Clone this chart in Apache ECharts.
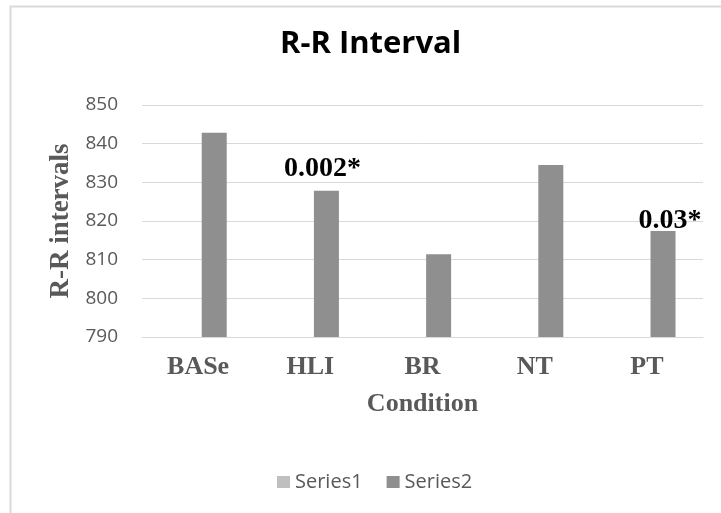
<!DOCTYPE html>
<html>
<head>
<meta charset="utf-8">
<script src="https://cdn.jsdelivr.net/npm/echarts@6/dist/echarts.min.js"></script>
<style>
html,body{margin:0;padding:0;background:#fff;}
#chart{width:721px;height:513px;}
</style>
</head>
<body>
<div id="chart"></div>
<script>
// ---- data ----
var categories = ['BASe', 'HLI', 'BR', 'NT', 'PT'];
var series1Values = [null, null, null, null, null];
var series2Values = [842.8, 827.8, 811.4, 834.5, 817.4];
var annotations = ['', '0.002*', '', '', '0.03*'];
var yTicks = [790, 800, 810, 820, 830, 840, 850];

// ---- styling / layout (not data) ----
var annotationOffsets = [[0, 0], [-4, -3], [0, 0], [0, 0], [7, 9]];

var s2Data = series2Values.map(function (v, i) {
  var item = { value: v };
  if (annotations[i]) {
    item.label = {
      show: true,
      position: 'top',
      formatter: annotations[i],
      offset: annotationOffsets[i],
      fontFamily: 'Liberation Serif',
      fontWeight: 'bold',
      fontSize: 28,
      color: '#000000'
    };
  }
  return item;
});

var chart = echarts.init(document.getElementById('chart'), null, { renderer: 'canvas' });
chart.setOption({
  animation: false,
  backgroundColor: '#ffffff',
  title: {
    text: 'R-R Interval',
    left: 280,
    top: 29,
    padding: 0,
    textStyle: {
      fontFamily: 'Open Sans',
      fontWeight: 'bold',
      fontSize: 31,
      color: '#000000'
    }
  },
  graphic: [{
    type: 'rect',
    shape: { x: 10.5, y: 6.5, width: 760, height: 560 },
    style: { fill: 'none', stroke: '#d9d9d9', lineWidth: 2 },
    silent: true,
    z: -10
  }],
  legend: {
    data: ['Series1', 'Series2'],
    left: 272,
    top: 467,
    itemWidth: 13,
    itemHeight: 12,
    itemGap: 24,
    icon: 'rect',
    textStyle: {
      fontFamily: 'Open Sans',
      fontSize: 20,
      color: '#595959'
    }
  },
  grid: {
    left: 142,
    right: 18,
    top: 105,
    bottom: 176,
    containLabel: false
  },
  xAxis: {
    type: 'category',
    data: categories,
    name: 'Condition',
    nameLocation: 'middle',
    nameGap: 54,
    nameTextStyle: {
      fontFamily: 'Liberation Serif',
      fontWeight: 'bold',
      fontSize: 26,
      color: '#595959',
      verticalAlign: 'top'
    },
    axisLine: { show: true, lineStyle: { color: '#d9d9d9', width: 1 } },
    axisTick: { show: false },
    axisLabel: {
      margin: 17,
      fontFamily: 'Liberation Serif',
      fontWeight: 'bold',
      fontSize: 26,
      color: '#595959'
    }
  },
  yAxis: {
    type: 'value',
    min: yTicks[0],
    max: yTicks[yTicks.length - 1],
    interval: yTicks[1] - yTicks[0],
    name: 'R-R intervals',
    nameLocation: 'middle',
    nameRotate: 90,
    nameGap: 67,
    nameTextStyle: {
      fontFamily: 'Liberation Serif',
      fontWeight: 'bold',
      fontSize: 27,
      color: '#595959'
    },
    axisLine: { show: false },
    axisTick: { show: false },
    splitLine: { show: true, lineStyle: { color: '#d9d9d9', width: 1 } },
    axisLabel: {
      margin: 24,
      fontFamily: 'Open Sans',
      fontSize: 19,
      color: '#595959'
    }
  },
  series: [
    {
      name: 'Series1',
      type: 'bar',
      data: series1Values,
      barWidth: 25,
      barGap: '29%',
      itemStyle: { color: '#bfbfbf' }
    },
    {
      name: 'Series2',
      type: 'bar',
      data: s2Data,
      barWidth: 25,
      barGap: '29%',
      itemStyle: { color: '#8f8f8f' }
    }
  ]
});
</script>
</body>
</html>
